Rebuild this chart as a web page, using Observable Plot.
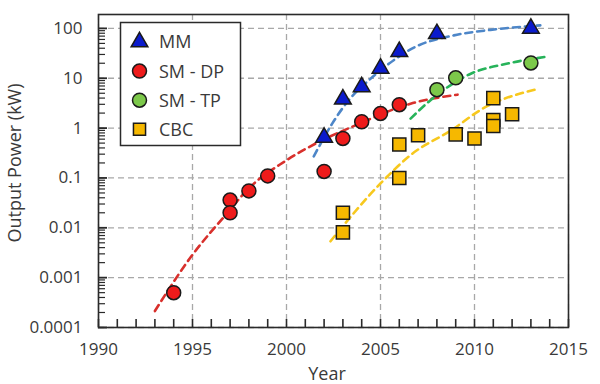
<!DOCTYPE html>
<html><head><meta charset="utf-8">
<script src="https://cdn.jsdelivr.net/npm/d3@7"></script>
<script src="https://cdn.jsdelivr.net/npm/@observablehq/plot@0.6"></script>
<style>body{margin:0;background:#fff;}</style>
</head><body><div id="chart"></div>
<script>
// ---- series meta ----
const seriesNames = ["MM", "SM - DP", "SM - TP", "CBC"];
const seriesFill = ["#0b1bcc", "#ee1b1b", "#7cc84a", "#f6b800"];
const trendStroke = ["#4d86c8", "#d8302c", "#27b35a", "#f7c81e"];

// ---- measured points ----
const mmYear = [2002, 2003, 2004, 2005, 2006, 2008, 2013];
const mmPower = [0.65, 3.8, 6.7, 15.8, 34, 78, 100];
const dpYear = [1994, 1997, 1997, 1998, 1999, 2002, 2003, 2004, 2005, 2006];
const dpPower = [0.0005, 0.036, 0.02, 0.055, 0.11, 0.135, 0.62, 1.34, 1.97, 2.95];
const tpYear = [2008, 2009, 2013];
const tpPower = [5.9, 10.2, 20.3];
const cbcYear = [2003, 2003, 2006, 2006, 2007, 2009, 2010, 2011, 2011, 2011, 2012];
const cbcPower = [0.02, 0.0081, 0.1, 0.47, 0.72, 0.75, 0.62, 4.0, 1.45, 1.1, 1.9];

// ---- trend curves ----
const mmTrendYear = [2001.45, 2002.43, 2003.31, 2004.38, 2005.44, 2006.86, 2008.9, 2010.85, 2013.5];
const mmTrendPower = [0.27, 1.23, 3.63, 9.12, 19.5, 42.7, 72.4, 93.3, 114.8];
const dpTrendYear = [1993.0, 1995.0, 1996.7, 1998.1, 1999.9, 2001.6, 2003.7, 2006.6, 2009.1];
const dpTrendPower = [0.000214, 0.00288, 0.017, 0.0676, 0.214, 0.501, 1.15, 3.09, 4.68];
const tpTrendYear = [2006.6, 2007.66, 2009.8, 2011.7, 2013.8];
const tpTrendPower = [1.55, 3.63, 12.3, 19.5, 26.9];
const cbcTrendYear = [2002.34, 2005.0, 2006.6, 2008.9, 2010.3, 2013.3];
const cbcTrendPower = [0.00537, 0.0776, 0.288, 0.977, 2.29, 6.03];

// ---- axes ----
const xTickValues = [1990, 1995, 2000, 2005, 2010, 2015];
const xTickLabels = ["1990", "1995", "2000", "2005", "2010", "2015"];
const yTickValues = [0.0001, 0.001, 0.01, 0.1, 1, 10, 100];
const yTickLabels = ["0.0001", "0.001", "0.01", "0.1", "1", "10", "100"];
const xDomain = [1990, 2015];
const yDomain = [0.0001, 190];

const W = 600, H = 384, mL = 98, mR = 32, mT = 14, mB = 57;
const plotW = W - mL - mR, plotH = H - mT - mB;

const pts = (xs, ys) => xs.map((x, i) => ({x, y: ys[i]}));
const seriesPts = [pts(mmYear, mmPower), pts(dpYear, dpPower), pts(tpYear, tpPower), pts(cbcYear, cbcPower)];
const trendPts = [pts(mmTrendYear, mmTrendPower), pts(dpTrendYear, dpTrendPower), pts(tpTrendYear, tpTrendPower), pts(cbcTrendYear, cbcTrendPower)];
const seriesSymbol = [d3.symbolTriangle, d3.symbolCircle, d3.symbolCircle, d3.symbolSquare];
const seriesR = [6.2, 7, 7, 7.4];

const yearTicks = d3.range(xDomain[0], xDomain[1] + 1);
const yAllTicks = d3.scaleLog().domain(yDomain).ticks().filter(v => v <= yDomain[1]);
const isMajor = v => yTickValues.some(t => Math.abs(t - v) / t < 1e-6);
const yMinor = yAllTicks.filter(v => !isMajor(v));
const ink = "#2a2a2a";

const marks = [
  Plot.gridX(xTickValues, {stroke: "#a8a8a8", strokeOpacity: 1, strokeWidth: 1.3, strokeDasharray: "6,4"}),
  Plot.gridY(yTickValues, {stroke: "#a8a8a8", strokeOpacity: 1, strokeWidth: 1.3, strokeDasharray: "6,4"})
];
trendPts.forEach((d, i) => {
  marks.push(Plot.line(d, {x: "x", y: "y", curve: "monotone-x", stroke: trendStroke[i], strokeWidth: 2.6, strokeDasharray: "7,5"}));
});
seriesPts.forEach((d, i) => {
  marks.push(Plot.dot(d, {x: "x", y: "y", r: seriesR[i], symbol: seriesSymbol[i], fill: seriesFill[i], stroke: "#1a1a1a", strokeWidth: 1.5}));
});
marks.push(
  // inward ticks
  Plot.ruleX(yearTicks, {x: d => d, insetTop: plotH - 8, stroke: ink, strokeWidth: 1.6}),
  Plot.ruleY(yTickValues, {y: d => d, insetRight: plotW - 9, stroke: ink, strokeWidth: 1.8}),
  Plot.ruleY(yMinor, {y: d => d, insetRight: plotW - 7, stroke: ink, strokeWidth: 1.2}),
  Plot.frame({stroke: ink, strokeWidth: 1.6}),
  Plot.axisX({ticks: xTickValues, tickSize: 0, tickPadding: 15, tickFormat: d => xTickLabels[xTickValues.indexOf(d)], label: null}),
  Plot.axisY({ticks: yTickValues, tickSize: 0, tickPadding: 16, tickFormat: d => yTickLabels[yTickValues.findIndex(t => Math.abs(t - d) / t < 1e-6)], label: null})
);

const chart = Plot.plot({
  width: W, height: H,
  marginLeft: mL, marginRight: mR, marginTop: mT, marginBottom: mB,
  style: {fontFamily: "'Open Sans', sans-serif", fontSize: "17px", color: "#3a3a3a", background: "#fff"},
  x: {domain: xDomain, label: null},
  y: {type: "log", domain: yDomain, label: null},
  marks
});
document.getElementById("chart").appendChild(chart);

// axis titles and legend
const svg = d3.select(chart);
svg.append("text").attr("transform", "translate(21,163) rotate(-90)").attr("text-anchor", "middle")
  .attr("font-size", 18).attr("fill", "#3a3a3a").attr("font-family", "'Open Sans', sans-serif").text("Output Power (kW)");
svg.append("text").attr("x", 327).attr("y", 380).attr("text-anchor", "middle")
  .attr("font-size", 18).attr("fill", "#3a3a3a").attr("font-family", "'Open Sans', sans-serif").text("Year");

const lg = svg.append("g");
lg.append("rect").attr("x", 120.5).attr("y", 22.5).attr("width", 120).attr("height", 123)
  .attr("fill", "#fff").attr("stroke", ink).attr("stroke-width", 1.5);
seriesNames.forEach((name, i) => {
  const cy = 42 + i * 29.1;
  lg.append("path").attr("transform", `translate(139.5,${cy})`)
    .attr("d", d3.symbol(seriesSymbol[i], Math.PI * seriesR[i] * seriesR[i] * (i === 3 ? 0.85 : 1))())
    .attr("fill", seriesFill[i]).attr("stroke", "#1a1a1a").attr("stroke-width", 1.5);
  lg.append("text").attr("x", 159).attr("y", cy).attr("dy", "0.36em").attr("font-size", 18)
    .attr("text-anchor", "start")
    .attr("fill", "#3a3a3a").attr("font-family", "'Open Sans', sans-serif").text(name);
});
</script>
</body></html>
